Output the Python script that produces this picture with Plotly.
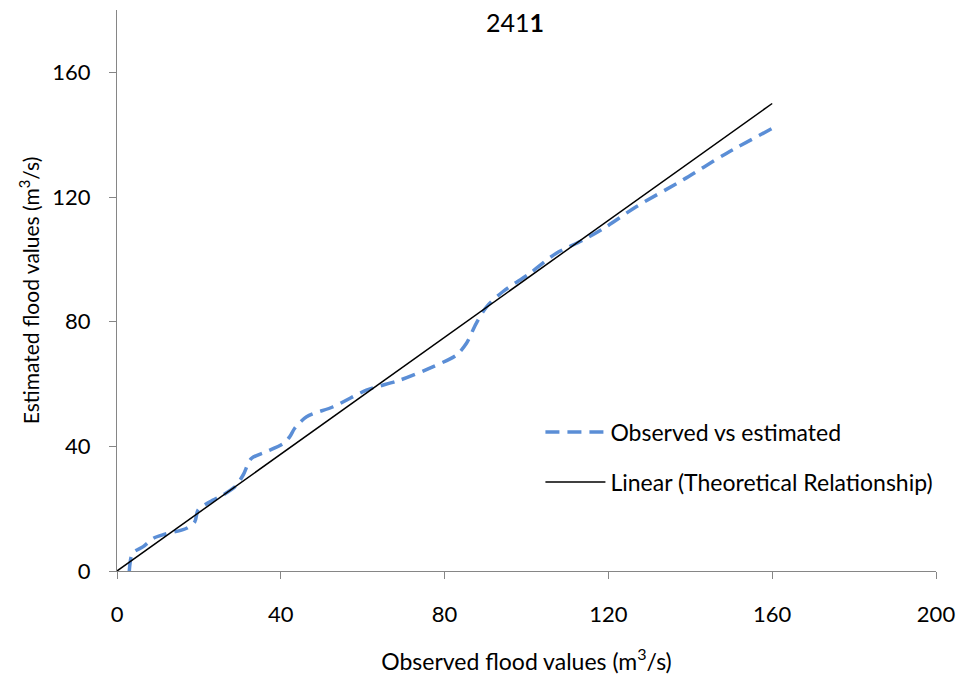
import plotly.graph_objects as go

# Observed vs estimated flood values (m3/s)
observed = [3.0, 3.8, 6.4, 8.9, 11.7, 17.0, 19.0, 19.8, 22.7, 25.9, 28.8, 30.8, 32.8,
            36.5, 40.6, 42.2, 43.4, 46.3, 52.8, 60.9, 69.0, 77.1, 82.9, 85.3, 87.7,
            90.2, 94.2, 100.7, 107.2, 113.7, 119.4, 126.7, 138.1, 148.7, 160.0]
estimated = [0.0, 5.7, 7.8, 10.5, 11.8, 13.7, 15.8, 19.6, 22.2, 24.4, 27.0, 30.8, 36.1,
             38.3, 40.9, 43.1, 45.8, 49.5, 52.7, 58.0, 61.2, 65.5, 69.3, 73.0, 79.4,
             84.7, 89.6, 95.4, 101.9, 106.1, 110.4, 116.8, 125.4, 133.9, 142.0]

# Theoretical relationship line
line_x = [0, 160]
line_y = [0, 150]

x_ticks = [0, 40, 80, 120, 160, 200]
y_ticks = [0, 40, 80, 120, 160]

FONT = "Lato"
AXIS_GREY = "#868686"

fig = go.Figure()
fig.add_trace(go.Scatter(
    x=observed, y=estimated, mode="lines",
    line=dict(color="#5B8ED6", width=3.5, dash="14px,8px", shape="spline", smoothing=0.8),
    name="Observed vs estimated", legendgroup="a",
))
fig.add_trace(go.Scatter(
    x=line_x, y=line_y, mode="lines",
    line=dict(color="black", width=1.5),
    name="Linear (Theoretical Relationship)", legendgroup="b",
))

fig.update_layout(
    width=961, height=675,
    margin=dict(l=117, r=25, t=10, b=104),
    paper_bgcolor="white", plot_bgcolor="white",
    font=dict(family=FONT, size=22, color="#000000"),
    showlegend=True,
    legend=dict(
        x=0.517, y=0.286, xanchor="left", yanchor="top",
        bgcolor="rgba(0,0,0,0)", font=dict(size=23),
        traceorder="grouped", tracegroupgap=17, itemwidth=60,
    ),
    annotations=[dict(
        text="241<b>1</b>", x=0.486, y=0.979, xref="paper", yref="paper",
        yanchor="middle", showarrow=False, font=dict(size=25),
    )],
)

fig.update_xaxes(
    range=[0, 200], tickvals=x_ticks, ticktext=[str(v) for v in x_ticks],
    showgrid=False, zeroline=False, showline=True, linecolor=AXIS_GREY, linewidth=1.3,
    ticks="outside", ticklen=7, tickcolor=AXIS_GREY, ticklabelstandoff=16,
    tickfont=dict(size=22), automargin=False,
    title=dict(text="Observed flood values (m<sup>3</sup>/s)", standoff=28, font=dict(size=23)),
)
fig.update_yaxes(
    range=[0, 180], tickvals=y_ticks, ticktext=[str(v) for v in y_ticks],
    showgrid=False, zeroline=False, showline=True, linecolor=AXIS_GREY, linewidth=1.3,
    ticks="outside", ticklen=7, tickcolor=AXIS_GREY, ticklabelstandoff=14,
    tickfont=dict(size=22), automargin=False,
    title=dict(text="Estimated flood values (m<sup>3</sup>/s)", standoff=6, font=dict(size=21)),
)

fig.write_html("out.html")
